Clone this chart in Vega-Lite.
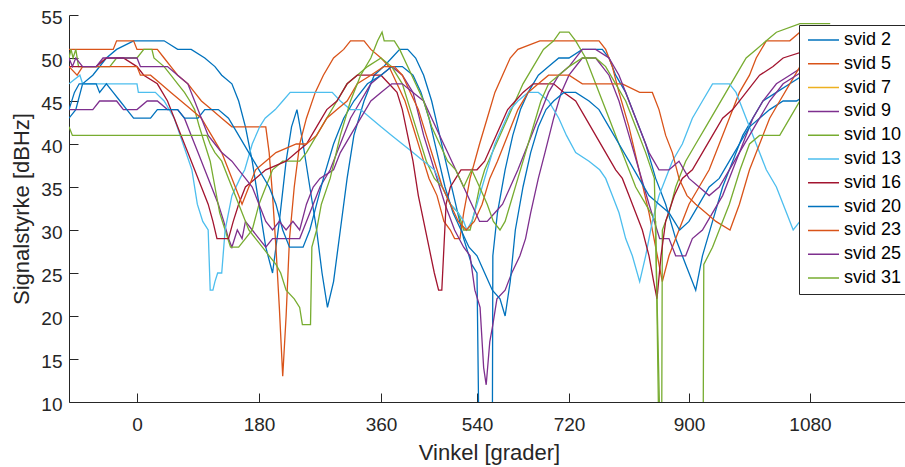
{
"$schema":"https://vega.github.io/schema/vega-lite/v6.json",
"width":836,"height":387,
"autosize":{"type":"none"},
"padding":{"left":69,"top":15,"right":0,"bottom":65},
"background":"white",
"config":{"view":{"stroke":null},"font":"Liberation Sans"},
"datasets":{"d":[
{"s":"svid 2","a":-100,"v":43},{"s":"svid 2","a":-90,"v":44},{"s":"svid 2","a":-80,"v":47},{"s":"svid 2","a":-65,"v":48},{"s":"svid 2","a":-45,"v":50},{"s":"svid 2","a":-30,"v":51},{"s":"svid 2","a":-5,"v":52},{"s":"svid 2","a":20,"v":52},{"s":"svid 2","a":40,"v":52},{"s":"svid 2","a":60,"v":51},{"s":"svid 2","a":80,"v":51},{"s":"svid 2","a":100,"v":50},{"s":"svid 2","a":115,"v":49},{"s":"svid 2","a":125,"v":48},{"s":"svid 2","a":140,"v":47},{"s":"svid 2","a":150,"v":45},{"s":"svid 2","a":160,"v":42},{"s":"svid 2","a":170,"v":38},{"s":"svid 2","a":180,"v":33},{"s":"svid 2","a":190,"v":28},{"s":"svid 2","a":200,"v":25},{"s":"svid 2","a":210,"v":31},{"s":"svid 2","a":220,"v":38},{"s":"svid 2","a":228,"v":42},{"s":"svid 2","a":236,"v":44},{"s":"svid 2","a":245,"v":40},{"s":"svid 2","a":255,"v":35},{"s":"svid 2","a":265,"v":30},{"s":"svid 2","a":273,"v":25},{"s":"svid 2","a":281,"v":21},{"s":"svid 2","a":290,"v":24},{"s":"svid 2","a":300,"v":30},{"s":"svid 2","a":310,"v":36},{"s":"svid 2","a":320,"v":41},{"s":"svid 2","a":335,"v":45},{"s":"svid 2","a":350,"v":48},{"s":"svid 2","a":365,"v":49},{"s":"svid 2","a":380,"v":50},{"s":"svid 2","a":395,"v":51},{"s":"svid 2","a":410,"v":51},{"s":"svid 2","a":425,"v":50},{"s":"svid 2","a":440,"v":48},{"s":"svid 2","a":455,"v":45},{"s":"svid 2","a":470,"v":41},{"s":"svid 2","a":485,"v":37},{"s":"svid 2","a":500,"v":33},{"s":"svid 2","a":515,"v":29},{"s":"svid 2","a":530,"v":26},{"s":"svid 2","a":540,"v":25},{"s":"svid 2","a":544,"v":5},{"s":"svid 2","a":570,"v":5},{"s":"svid 2","a":571,"v":27},{"s":"svid 2","a":580,"v":32},{"s":"svid 2","a":595,"v":37},{"s":"svid 2","a":610,"v":41},{"s":"svid 2","a":625,"v":44},{"s":"svid 2","a":640,"v":46},{"s":"svid 2","a":660,"v":48},{"s":"svid 2","a":680,"v":49},{"s":"svid 2","a":700,"v":50},{"s":"svid 2","a":720,"v":50},{"s":"svid 2","a":740,"v":51},{"s":"svid 2","a":770,"v":51},{"s":"svid 2","a":780,"v":50},{"s":"svid 2","a":790,"v":48},{"s":"svid 2","a":805,"v":46},{"s":"svid 2","a":820,"v":43},{"s":"svid 2","a":835,"v":40},{"s":"svid 2","a":850,"v":36},{"s":"svid 2","a":865,"v":33},{"s":"svid 2","a":880,"v":29},{"s":"svid 2","a":895,"v":26},{"s":"svid 2","a":910,"v":23},{"s":"svid 2","a":920,"v":27},{"s":"svid 2","a":935,"v":31},{"s":"svid 2","a":950,"v":35},{"s":"svid 2","a":965,"v":38},{"s":"svid 2","a":980,"v":41},{"s":"svid 2","a":995,"v":43},{"s":"svid 2","a":1010,"v":45},{"s":"svid 2","a":1030,"v":46},{"s":"svid 2","a":1050,"v":47},{"s":"svid 2","a":1070,"v":48},{"s":"svid 2","a":1110,"v":48},
{"s":"svid 5","a":-100,"v":51},{"s":"svid 5","a":-35,"v":51},{"s":"svid 5","a":-30,"v":52},{"s":"svid 5","a":-5,"v":52},{"s":"svid 5","a":0,"v":51},{"s":"svid 5","a":30,"v":51},{"s":"svid 5","a":40,"v":50},{"s":"svid 5","a":50,"v":49},{"s":"svid 5","a":60,"v":48},{"s":"svid 5","a":75,"v":47},{"s":"svid 5","a":85,"v":46},{"s":"svid 5","a":95,"v":45},{"s":"svid 5","a":110,"v":44},{"s":"svid 5","a":125,"v":43},{"s":"svid 5","a":140,"v":42},{"s":"svid 5","a":190,"v":42},{"s":"svid 5","a":195,"v":39},{"s":"svid 5","a":200,"v":34},{"s":"svid 5","a":205,"v":28},{"s":"svid 5","a":210,"v":21},{"s":"svid 5","a":215,"v":13},{"s":"svid 5","a":220,"v":20},{"s":"svid 5","a":225,"v":29},{"s":"svid 5","a":232,"v":35},{"s":"svid 5","a":240,"v":40},{"s":"svid 5","a":250,"v":43},{"s":"svid 5","a":263,"v":46},{"s":"svid 5","a":275,"v":48},{"s":"svid 5","a":290,"v":50},{"s":"svid 5","a":305,"v":51},{"s":"svid 5","a":315,"v":52},{"s":"svid 5","a":335,"v":52},{"s":"svid 5","a":345,"v":51},{"s":"svid 5","a":360,"v":50},{"s":"svid 5","a":375,"v":49},{"s":"svid 5","a":390,"v":47},{"s":"svid 5","a":405,"v":45},{"s":"svid 5","a":420,"v":42},{"s":"svid 5","a":435,"v":39},{"s":"svid 5","a":450,"v":36},{"s":"svid 5","a":465,"v":34},{"s":"svid 5","a":478,"v":31},{"s":"svid 5","a":490,"v":30},{"s":"svid 5","a":498,"v":29},{"s":"svid 5","a":508,"v":29},{"s":"svid 5","a":515,"v":32},{"s":"svid 5","a":527,"v":36},{"s":"svid 5","a":545,"v":40},{"s":"svid 5","a":560,"v":43},{"s":"svid 5","a":575,"v":46},{"s":"svid 5","a":590,"v":48},{"s":"svid 5","a":605,"v":50},{"s":"svid 5","a":620,"v":51},{"s":"svid 5","a":663,"v":52},{"s":"svid 5","a":765,"v":52},{"s":"svid 5","a":775,"v":51},{"s":"svid 5","a":785,"v":49},{"s":"svid 5","a":795,"v":46},{"s":"svid 5","a":810,"v":42},{"s":"svid 5","a":825,"v":37},{"s":"svid 5","a":840,"v":32},{"s":"svid 5","a":850,"v":28},{"s":"svid 5","a":860,"v":24},{"s":"svid 5","a":870,"v":27},{"s":"svid 5","a":885,"v":30},{"s":"svid 5","a":900,"v":33},{"s":"svid 5","a":915,"v":35},{"s":"svid 5","a":930,"v":37},{"s":"svid 5","a":945,"v":40},{"s":"svid 5","a":960,"v":43},{"s":"svid 5","a":975,"v":46},{"s":"svid 5","a":990,"v":48},{"s":"svid 5","a":1000,"v":50},{"s":"svid 5","a":1015,"v":52},{"s":"svid 5","a":1050,"v":52},{"s":"svid 5","a":1065,"v":53},{"s":"svid 5","a":1110,"v":53},
{"s":"svid 9","a":-100,"v":44},{"s":"svid 9","a":-65,"v":44},{"s":"svid 9","a":-55,"v":45},{"s":"svid 9","a":-30,"v":45},{"s":"svid 9","a":-20,"v":44},{"s":"svid 9","a":0,"v":44},{"s":"svid 9","a":15,"v":45},{"s":"svid 9","a":30,"v":45},{"s":"svid 9","a":45,"v":44},{"s":"svid 9","a":60,"v":44},{"s":"svid 9","a":70,"v":43},{"s":"svid 9","a":80,"v":41},{"s":"svid 9","a":90,"v":39},{"s":"svid 9","a":100,"v":37},{"s":"svid 9","a":110,"v":35},{"s":"svid 9","a":120,"v":33},{"s":"svid 9","a":128,"v":31},{"s":"svid 9","a":135,"v":29},{"s":"svid 9","a":140,"v":28},{"s":"svid 9","a":148,"v":30},{"s":"svid 9","a":155,"v":29},{"s":"svid 9","a":160,"v":31},{"s":"svid 9","a":170,"v":30},{"s":"svid 9","a":180,"v":29},{"s":"svid 9","a":190,"v":28},{"s":"svid 9","a":200,"v":29},{"s":"svid 9","a":240,"v":29},{"s":"svid 9","a":250,"v":31},{"s":"svid 9","a":260,"v":33},{"s":"svid 9","a":270,"v":35},{"s":"svid 9","a":285,"v":37},{"s":"svid 9","a":300,"v":40},{"s":"svid 9","a":315,"v":43},{"s":"svid 9","a":330,"v":45},{"s":"svid 9","a":345,"v":47},{"s":"svid 9","a":360,"v":48},{"s":"svid 9","a":380,"v":49},{"s":"svid 9","a":400,"v":48},{"s":"svid 9","a":420,"v":46},{"s":"svid 9","a":440,"v":41},{"s":"svid 9","a":460,"v":37},{"s":"svid 9","a":480,"v":33},{"s":"svid 9","a":498,"v":30},{"s":"svid 9","a":515,"v":28},{"s":"svid 9","a":527,"v":27},{"s":"svid 9","a":536,"v":23},{"s":"svid 9","a":546,"v":21},{"s":"svid 9","a":553,"v":14},{"s":"svid 9","a":558,"v":12},{"s":"svid 9","a":565,"v":17},{"s":"svid 9","a":571,"v":19},{"s":"svid 9","a":579,"v":22},{"s":"svid 9","a":595,"v":23},{"s":"svid 9","a":608,"v":25},{"s":"svid 9","a":624,"v":27},{"s":"svid 9","a":635,"v":29},{"s":"svid 9","a":645,"v":32},{"s":"svid 9","a":660,"v":36},{"s":"svid 9","a":673,"v":39},{"s":"svid 9","a":690,"v":43},{"s":"svid 9","a":705,"v":46},{"s":"svid 9","a":720,"v":48},{"s":"svid 9","a":740,"v":50},{"s":"svid 9","a":760,"v":50},{"s":"svid 9","a":780,"v":48},{"s":"svid 9","a":795,"v":45},{"s":"svid 9","a":810,"v":41},{"s":"svid 9","a":825,"v":37},{"s":"svid 9","a":840,"v":33},{"s":"svid 9","a":856,"v":29},{"s":"svid 9","a":870,"v":29},{"s":"svid 9","a":880,"v":27},{"s":"svid 9","a":895,"v":27},{"s":"svid 9","a":905,"v":29},{"s":"svid 9","a":920,"v":30},{"s":"svid 9","a":935,"v":32},{"s":"svid 9","a":950,"v":34},{"s":"svid 9","a":965,"v":37},{"s":"svid 9","a":980,"v":40},{"s":"svid 9","a":995,"v":43},{"s":"svid 9","a":1010,"v":45},{"s":"svid 9","a":1030,"v":47},{"s":"svid 9","a":1050,"v":48},{"s":"svid 9","a":1070,"v":49},{"s":"svid 9","a":1090,"v":50},{"s":"svid 9","a":1110,"v":50},
{"s":"svid 10","a":-100,"v":50},{"s":"svid 10","a":-97,"v":51},{"s":"svid 10","a":-94,"v":50},{"s":"svid 10","a":-90,"v":51},{"s":"svid 10","a":-86,"v":49},{"s":"svid 10","a":-40,"v":49},{"s":"svid 10","a":-30,"v":50},{"s":"svid 10","a":0,"v":50},{"s":"svid 10","a":10,"v":51},{"s":"svid 10","a":22,"v":51},{"s":"svid 10","a":25,"v":50},{"s":"svid 10","a":40,"v":49},{"s":"svid 10","a":50,"v":48},{"s":"svid 10","a":60,"v":47},{"s":"svid 10","a":70,"v":46},{"s":"svid 10","a":78,"v":45},{"s":"svid 10","a":85,"v":44},{"s":"svid 10","a":92,"v":42},{"s":"svid 10","a":100,"v":40},{"s":"svid 10","a":108,"v":38},{"s":"svid 10","a":115,"v":35},{"s":"svid 10","a":122,"v":32},{"s":"svid 10","a":130,"v":30},{"s":"svid 10","a":138,"v":28},{"s":"svid 10","a":150,"v":28},{"s":"svid 10","a":160,"v":29},{"s":"svid 10","a":170,"v":30},{"s":"svid 10","a":180,"v":33},{"s":"svid 10","a":190,"v":35},{"s":"svid 10","a":200,"v":37},{"s":"svid 10","a":215,"v":38},{"s":"svid 10","a":240,"v":38},{"s":"svid 10","a":250,"v":39},{"s":"svid 10","a":265,"v":41},{"s":"svid 10","a":280,"v":43},{"s":"svid 10","a":295,"v":45},{"s":"svid 10","a":310,"v":47},{"s":"svid 10","a":325,"v":48},{"s":"svid 10","a":340,"v":49},{"s":"svid 10","a":360,"v":50},{"s":"svid 10","a":380,"v":49},{"s":"svid 10","a":400,"v":47},{"s":"svid 10","a":415,"v":44},{"s":"svid 10","a":430,"v":41},{"s":"svid 10","a":445,"v":38},{"s":"svid 10","a":460,"v":36},{"s":"svid 10","a":475,"v":35},{"s":"svid 10","a":490,"v":33},{"s":"svid 10","a":505,"v":32},{"s":"svid 10","a":515,"v":30},{"s":"svid 10","a":527,"v":30},{"s":"svid 10","a":535,"v":32},{"s":"svid 10","a":545,"v":35},{"s":"svid 10","a":555,"v":37},{"s":"svid 10","a":570,"v":39},{"s":"svid 10","a":585,"v":41},{"s":"svid 10","a":600,"v":43},{"s":"svid 10","a":615,"v":45},{"s":"svid 10","a":630,"v":47},{"s":"svid 10","a":650,"v":49},{"s":"svid 10","a":670,"v":51},{"s":"svid 10","a":690,"v":52},{"s":"svid 10","a":702,"v":53},{"s":"svid 10","a":720,"v":53},{"s":"svid 10","a":730,"v":52},{"s":"svid 10","a":745,"v":50},{"s":"svid 10","a":760,"v":47},{"s":"svid 10","a":775,"v":44},{"s":"svid 10","a":790,"v":41},{"s":"svid 10","a":805,"v":38},{"s":"svid 10","a":820,"v":35},{"s":"svid 10","a":835,"v":33},{"s":"svid 10","a":850,"v":31},{"s":"svid 10","a":855,"v":5},{"s":"svid 10","a":859,"v":5},{"s":"svid 10","a":860,"v":30},{"s":"svid 10","a":870,"v":32},{"s":"svid 10","a":880,"v":35},{"s":"svid 10","a":895,"v":38},{"s":"svid 10","a":910,"v":40},{"s":"svid 10","a":925,"v":42},{"s":"svid 10","a":940,"v":44},{"s":"svid 10","a":955,"v":46},{"s":"svid 10","a":970,"v":48},{"s":"svid 10","a":985,"v":50},{"s":"svid 10","a":1000,"v":51},{"s":"svid 10","a":1015,"v":52},{"s":"svid 10","a":1030,"v":53},{"s":"svid 10","a":1065,"v":54},{"s":"svid 10","a":1110,"v":54},
{"s":"svid 13","a":-100,"v":47},{"s":"svid 13","a":-84,"v":48},{"s":"svid 13","a":-80,"v":47},{"s":"svid 13","a":0,"v":47},{"s":"svid 13","a":2,"v":46},{"s":"svid 13","a":27,"v":46},{"s":"svid 13","a":40,"v":45},{"s":"svid 13","a":55,"v":43},{"s":"svid 13","a":68,"v":40},{"s":"svid 13","a":81,"v":37},{"s":"svid 13","a":89,"v":33},{"s":"svid 13","a":97,"v":31},{"s":"svid 13","a":105,"v":30},{"s":"svid 13","a":108,"v":23},{"s":"svid 13","a":112,"v":23},{"s":"svid 13","a":115,"v":24},{"s":"svid 13","a":119,"v":25},{"s":"svid 13","a":125,"v":25},{"s":"svid 13","a":130,"v":30},{"s":"svid 13","a":140,"v":34},{"s":"svid 13","a":152,"v":36},{"s":"svid 13","a":159,"v":37},{"s":"svid 13","a":170,"v":40},{"s":"svid 13","a":181,"v":42},{"s":"svid 13","a":189,"v":43},{"s":"svid 13","a":204,"v":44},{"s":"svid 13","a":215,"v":45},{"s":"svid 13","a":226,"v":46},{"s":"svid 13","a":288,"v":46},{"s":"svid 13","a":300,"v":45},{"s":"svid 13","a":315,"v":44},{"s":"svid 13","a":330,"v":44},{"s":"svid 13","a":345,"v":43},{"s":"svid 13","a":360,"v":42},{"s":"svid 13","a":380,"v":41},{"s":"svid 13","a":400,"v":40},{"s":"svid 13","a":420,"v":39},{"s":"svid 13","a":440,"v":38},{"s":"svid 13","a":460,"v":37},{"s":"svid 13","a":475,"v":35},{"s":"svid 13","a":490,"v":33},{"s":"svid 13","a":505,"v":32},{"s":"svid 13","a":515,"v":31},{"s":"svid 13","a":521,"v":30},{"s":"svid 13","a":530,"v":31},{"s":"svid 13","a":540,"v":33},{"s":"svid 13","a":550,"v":35},{"s":"svid 13","a":560,"v":37},{"s":"svid 13","a":575,"v":40},{"s":"svid 13","a":590,"v":42},{"s":"svid 13","a":605,"v":44},{"s":"svid 13","a":620,"v":45},{"s":"svid 13","a":640,"v":46},{"s":"svid 13","a":660,"v":46},{"s":"svid 13","a":680,"v":45},{"s":"svid 13","a":700,"v":43},{"s":"svid 13","a":715,"v":41},{"s":"svid 13","a":730,"v":39},{"s":"svid 13","a":750,"v":38},{"s":"svid 13","a":766,"v":37},{"s":"svid 13","a":775,"v":36},{"s":"svid 13","a":785,"v":34},{"s":"svid 13","a":795,"v":32},{"s":"svid 13","a":805,"v":29},{"s":"svid 13","a":815,"v":27},{"s":"svid 13","a":826,"v":24},{"s":"svid 13","a":835,"v":27},{"s":"svid 13","a":845,"v":31},{"s":"svid 13","a":855,"v":34},{"s":"svid 13","a":865,"v":36},{"s":"svid 13","a":875,"v":38},{"s":"svid 13","a":890,"v":40},{"s":"svid 13","a":905,"v":43},{"s":"svid 13","a":920,"v":45},{"s":"svid 13","a":935,"v":47},{"s":"svid 13","a":960,"v":47},{"s":"svid 13","a":970,"v":46},{"s":"svid 13","a":985,"v":43},{"s":"svid 13","a":1000,"v":40},{"s":"svid 13","a":1015,"v":37},{"s":"svid 13","a":1030,"v":35},{"s":"svid 13","a":1045,"v":32},{"s":"svid 13","a":1055,"v":30},{"s":"svid 13","a":1065,"v":31},{"s":"svid 13","a":1080,"v":34},{"s":"svid 13","a":1095,"v":37},{"s":"svid 13","a":1110,"v":40},
{"s":"svid 16","a":-100,"v":49},{"s":"svid 16","a":-60,"v":49},{"s":"svid 16","a":-45,"v":50},{"s":"svid 16","a":-20,"v":50},{"s":"svid 16","a":0,"v":49},{"s":"svid 16","a":10,"v":48},{"s":"svid 16","a":30,"v":47},{"s":"svid 16","a":45,"v":45},{"s":"svid 16","a":55,"v":43},{"s":"svid 16","a":65,"v":41},{"s":"svid 16","a":75,"v":39},{"s":"svid 16","a":85,"v":37},{"s":"svid 16","a":95,"v":35},{"s":"svid 16","a":105,"v":33},{"s":"svid 16","a":112,"v":31},{"s":"svid 16","a":118,"v":29},{"s":"svid 16","a":135,"v":29},{"s":"svid 16","a":142,"v":31},{"s":"svid 16","a":150,"v":33},{"s":"svid 16","a":160,"v":35},{"s":"svid 16","a":175,"v":36},{"s":"svid 16","a":190,"v":37},{"s":"svid 16","a":220,"v":38},{"s":"svid 16","a":235,"v":39},{"s":"svid 16","a":250,"v":40},{"s":"svid 16","a":265,"v":42},{"s":"svid 16","a":280,"v":44},{"s":"svid 16","a":295,"v":45},{"s":"svid 16","a":310,"v":47},{"s":"svid 16","a":325,"v":48},{"s":"svid 16","a":360,"v":48},{"s":"svid 16","a":375,"v":47},{"s":"svid 16","a":390,"v":46},{"s":"svid 16","a":400,"v":44},{"s":"svid 16","a":410,"v":41},{"s":"svid 16","a":420,"v":38},{"s":"svid 16","a":430,"v":34},{"s":"svid 16","a":440,"v":31},{"s":"svid 16","a":450,"v":28},{"s":"svid 16","a":460,"v":25},{"s":"svid 16","a":468,"v":23},{"s":"svid 16","a":474,"v":23},{"s":"svid 16","a":478,"v":28},{"s":"svid 16","a":482,"v":33},{"s":"svid 16","a":490,"v":35},{"s":"svid 16","a":500,"v":36},{"s":"svid 16","a":510,"v":37},{"s":"svid 16","a":540,"v":37},{"s":"svid 16","a":555,"v":38},{"s":"svid 16","a":570,"v":40},{"s":"svid 16","a":585,"v":42},{"s":"svid 16","a":600,"v":44},{"s":"svid 16","a":615,"v":45},{"s":"svid 16","a":630,"v":46},{"s":"svid 16","a":650,"v":47},{"s":"svid 16","a":690,"v":47},{"s":"svid 16","a":710,"v":46},{"s":"svid 16","a":730,"v":45},{"s":"svid 16","a":745,"v":43},{"s":"svid 16","a":760,"v":41},{"s":"svid 16","a":775,"v":39},{"s":"svid 16","a":790,"v":37},{"s":"svid 16","a":800,"v":36},{"s":"svid 16","a":810,"v":34},{"s":"svid 16","a":820,"v":32},{"s":"svid 16","a":830,"v":30},{"s":"svid 16","a":840,"v":27},{"s":"svid 16","a":847,"v":24},{"s":"svid 16","a":852,"v":22},{"s":"svid 16","a":858,"v":27},{"s":"svid 16","a":865,"v":31},{"s":"svid 16","a":878,"v":34},{"s":"svid 16","a":890,"v":36},{"s":"svid 16","a":905,"v":37},{"s":"svid 16","a":920,"v":39},{"s":"svid 16","a":935,"v":41},{"s":"svid 16","a":950,"v":43},{"s":"svid 16","a":965,"v":44},{"s":"svid 16","a":985,"v":46},{"s":"svid 16","a":1005,"v":48},{"s":"svid 16","a":1025,"v":49},{"s":"svid 16","a":1040,"v":50},{"s":"svid 16","a":1080,"v":51},{"s":"svid 16","a":1110,"v":51},
{"s":"svid 20","a":-100,"v":44},{"s":"svid 20","a":-92,"v":46},{"s":"svid 20","a":-85,"v":47},{"s":"svid 20","a":-60,"v":47},{"s":"svid 20","a":-55,"v":46},{"s":"svid 20","a":-45,"v":47},{"s":"svid 20","a":-35,"v":46},{"s":"svid 20","a":-25,"v":45},{"s":"svid 20","a":-15,"v":44},{"s":"svid 20","a":-5,"v":43},{"s":"svid 20","a":20,"v":43},{"s":"svid 20","a":30,"v":44},{"s":"svid 20","a":60,"v":44},{"s":"svid 20","a":70,"v":43},{"s":"svid 20","a":90,"v":43},{"s":"svid 20","a":100,"v":44},{"s":"svid 20","a":120,"v":44},{"s":"svid 20","a":135,"v":43},{"s":"svid 20","a":150,"v":41},{"s":"svid 20","a":165,"v":39},{"s":"svid 20","a":180,"v":37},{"s":"svid 20","a":195,"v":35},{"s":"svid 20","a":205,"v":33},{"s":"svid 20","a":215,"v":30},{"s":"svid 20","a":225,"v":28},{"s":"svid 20","a":245,"v":28},{"s":"svid 20","a":255,"v":30},{"s":"svid 20","a":265,"v":33},{"s":"svid 20","a":275,"v":36},{"s":"svid 20","a":290,"v":40},{"s":"svid 20","a":305,"v":43},{"s":"svid 20","a":320,"v":45},{"s":"svid 20","a":340,"v":47},{"s":"svid 20","a":360,"v":48},{"s":"svid 20","a":380,"v":49},{"s":"svid 20","a":400,"v":49},{"s":"svid 20","a":420,"v":48},{"s":"svid 20","a":435,"v":46},{"s":"svid 20","a":450,"v":43},{"s":"svid 20","a":465,"v":39},{"s":"svid 20","a":480,"v":35},{"s":"svid 20","a":495,"v":32},{"s":"svid 20","a":510,"v":30},{"s":"svid 20","a":525,"v":28},{"s":"svid 20","a":540,"v":27},{"s":"svid 20","a":555,"v":25},{"s":"svid 20","a":570,"v":23},{"s":"svid 20","a":585,"v":22},{"s":"svid 20","a":595,"v":20},{"s":"svid 20","a":605,"v":24},{"s":"svid 20","a":615,"v":30},{"s":"svid 20","a":630,"v":35},{"s":"svid 20","a":645,"v":39},{"s":"svid 20","a":660,"v":42},{"s":"svid 20","a":675,"v":44},{"s":"svid 20","a":690,"v":45},{"s":"svid 20","a":710,"v":46},{"s":"svid 20","a":730,"v":46},{"s":"svid 20","a":750,"v":45},{"s":"svid 20","a":765,"v":44},{"s":"svid 20","a":780,"v":42},{"s":"svid 20","a":795,"v":40},{"s":"svid 20","a":810,"v":38},{"s":"svid 20","a":825,"v":36},{"s":"svid 20","a":840,"v":34},{"s":"svid 20","a":855,"v":33},{"s":"svid 20","a":870,"v":32},{"s":"svid 20","a":886,"v":30},{"s":"svid 20","a":900,"v":31},{"s":"svid 20","a":915,"v":33},{"s":"svid 20","a":930,"v":35},{"s":"svid 20","a":945,"v":36},{"s":"svid 20","a":960,"v":38},{"s":"svid 20","a":975,"v":40},{"s":"svid 20","a":990,"v":42},{"s":"svid 20","a":1005,"v":43},{"s":"svid 20","a":1020,"v":44},{"s":"svid 20","a":1040,"v":45},{"s":"svid 20","a":1060,"v":45},{"s":"svid 20","a":1080,"v":46},{"s":"svid 20","a":1110,"v":47},
{"s":"svid 23","a":-100,"v":49},{"s":"svid 23","a":-88,"v":48},{"s":"svid 23","a":-80,"v":49},{"s":"svid 23","a":0,"v":49},{"s":"svid 23","a":5,"v":48},{"s":"svid 23","a":20,"v":48},{"s":"svid 23","a":35,"v":47},{"s":"svid 23","a":50,"v":46},{"s":"svid 23","a":65,"v":45},{"s":"svid 23","a":80,"v":44},{"s":"svid 23","a":95,"v":43},{"s":"svid 23","a":110,"v":41},{"s":"svid 23","a":125,"v":39},{"s":"svid 23","a":135,"v":37},{"s":"svid 23","a":145,"v":35},{"s":"svid 23","a":155,"v":33},{"s":"svid 23","a":165,"v":35},{"s":"svid 23","a":175,"v":37},{"s":"svid 23","a":190,"v":38},{"s":"svid 23","a":205,"v":39},{"s":"svid 23","a":235,"v":40},{"s":"svid 23","a":250,"v":40},{"s":"svid 23","a":265,"v":41},{"s":"svid 23","a":280,"v":43},{"s":"svid 23","a":295,"v":44},{"s":"svid 23","a":310,"v":45},{"s":"svid 23","a":325,"v":47},{"s":"svid 23","a":345,"v":48},{"s":"svid 23","a":365,"v":49},{"s":"svid 23","a":385,"v":49},{"s":"svid 23","a":400,"v":48},{"s":"svid 23","a":415,"v":46},{"s":"svid 23","a":430,"v":44},{"s":"svid 23","a":445,"v":41},{"s":"svid 23","a":460,"v":38},{"s":"svid 23","a":475,"v":35},{"s":"svid 23","a":490,"v":33},{"s":"svid 23","a":505,"v":31},{"s":"svid 23","a":520,"v":30},{"s":"svid 23","a":535,"v":31},{"s":"svid 23","a":550,"v":33},{"s":"svid 23","a":565,"v":36},{"s":"svid 23","a":580,"v":38},{"s":"svid 23","a":600,"v":41},{"s":"svid 23","a":620,"v":44},{"s":"svid 23","a":640,"v":46},{"s":"svid 23","a":660,"v":47},{"s":"svid 23","a":680,"v":48},{"s":"svid 23","a":720,"v":48},{"s":"svid 23","a":740,"v":47},{"s":"svid 23","a":800,"v":47},{"s":"svid 23","a":826,"v":46},{"s":"svid 23","a":845,"v":46},{"s":"svid 23","a":855,"v":44},{"s":"svid 23","a":865,"v":41},{"s":"svid 23","a":875,"v":39},{"s":"svid 23","a":885,"v":36},{"s":"svid 23","a":897,"v":34},{"s":"svid 23","a":910,"v":33},{"s":"svid 23","a":925,"v":32},{"s":"svid 23","a":940,"v":31},{"s":"svid 23","a":961,"v":30},{"s":"svid 23","a":975,"v":33},{"s":"svid 23","a":990,"v":37},{"s":"svid 23","a":1005,"v":40},{"s":"svid 23","a":1020,"v":43},{"s":"svid 23","a":1035,"v":45},{"s":"svid 23","a":1050,"v":47},{"s":"svid 23","a":1065,"v":49},{"s":"svid 23","a":1080,"v":50},{"s":"svid 23","a":1110,"v":51},
{"s":"svid 25","a":-100,"v":50},{"s":"svid 25","a":-95,"v":49},{"s":"svid 25","a":-90,"v":50},{"s":"svid 25","a":-80,"v":49},{"s":"svid 25","a":-60,"v":49},{"s":"svid 25","a":-50,"v":50},{"s":"svid 25","a":0,"v":50},{"s":"svid 25","a":5,"v":49},{"s":"svid 25","a":45,"v":49},{"s":"svid 25","a":60,"v":48},{"s":"svid 25","a":75,"v":47},{"s":"svid 25","a":85,"v":45},{"s":"svid 25","a":95,"v":43},{"s":"svid 25","a":105,"v":41},{"s":"svid 25","a":115,"v":40},{"s":"svid 25","a":125,"v":39},{"s":"svid 25","a":140,"v":38},{"s":"svid 25","a":150,"v":37},{"s":"svid 25","a":160,"v":36},{"s":"svid 25","a":170,"v":35},{"s":"svid 25","a":180,"v":33},{"s":"svid 25","a":190,"v":31},{"s":"svid 25","a":200,"v":30},{"s":"svid 25","a":210,"v":31},{"s":"svid 25","a":220,"v":30},{"s":"svid 25","a":230,"v":31},{"s":"svid 25","a":240,"v":30},{"s":"svid 25","a":250,"v":33},{"s":"svid 25","a":260,"v":35},{"s":"svid 25","a":270,"v":36},{"s":"svid 25","a":290,"v":37},{"s":"svid 25","a":300,"v":39},{"s":"svid 25","a":315,"v":41},{"s":"svid 25","a":330,"v":43},{"s":"svid 25","a":345,"v":45},{"s":"svid 25","a":360,"v":46},{"s":"svid 25","a":380,"v":47},{"s":"svid 25","a":400,"v":47},{"s":"svid 25","a":420,"v":46},{"s":"svid 25","a":440,"v":45},{"s":"svid 25","a":455,"v":43},{"s":"svid 25","a":470,"v":41},{"s":"svid 25","a":485,"v":39},{"s":"svid 25","a":500,"v":37},{"s":"svid 25","a":515,"v":35},{"s":"svid 25","a":530,"v":33},{"s":"svid 25","a":545,"v":31},{"s":"svid 25","a":560,"v":31},{"s":"svid 25","a":575,"v":32},{"s":"svid 25","a":590,"v":33},{"s":"svid 25","a":605,"v":35},{"s":"svid 25","a":620,"v":37},{"s":"svid 25","a":640,"v":40},{"s":"svid 25","a":660,"v":43},{"s":"svid 25","a":680,"v":46},{"s":"svid 25","a":700,"v":48},{"s":"svid 25","a":720,"v":49},{"s":"svid 25","a":740,"v":51},{"s":"svid 25","a":760,"v":51},{"s":"svid 25","a":780,"v":50},{"s":"svid 25","a":795,"v":48},{"s":"svid 25","a":810,"v":45},{"s":"svid 25","a":825,"v":42},{"s":"svid 25","a":840,"v":39},{"s":"svid 25","a":855,"v":37},{"s":"svid 25","a":870,"v":37},{"s":"svid 25","a":885,"v":38},{"s":"svid 25","a":900,"v":36},{"s":"svid 25","a":915,"v":35},{"s":"svid 25","a":930,"v":34},{"s":"svid 25","a":945,"v":35},{"s":"svid 25","a":960,"v":37},{"s":"svid 25","a":975,"v":39},{"s":"svid 25","a":990,"v":41},{"s":"svid 25","a":1005,"v":43},{"s":"svid 25","a":1020,"v":45},{"s":"svid 25","a":1040,"v":47},{"s":"svid 25","a":1060,"v":48},{"s":"svid 25","a":1080,"v":49},{"s":"svid 25","a":1110,"v":49},
{"s":"svid 31","a":-100,"v":42},{"s":"svid 31","a":-95,"v":41},{"s":"svid 31","a":103,"v":41},{"s":"svid 31","a":108,"v":40},{"s":"svid 31","a":115,"v":39},{"s":"svid 31","a":125,"v":38},{"s":"svid 31","a":135,"v":36},{"s":"svid 31","a":145,"v":34},{"s":"svid 31","a":155,"v":32},{"s":"svid 31","a":165,"v":30},{"s":"svid 31","a":175,"v":29},{"s":"svid 31","a":185,"v":28},{"s":"svid 31","a":195,"v":27},{"s":"svid 31","a":205,"v":26},{"s":"svid 31","a":212,"v":25},{"s":"svid 31","a":220,"v":23},{"s":"svid 31","a":232,"v":22},{"s":"svid 31","a":240,"v":21},{"s":"svid 31","a":244,"v":19},{"s":"svid 31","a":256,"v":19},{"s":"svid 31","a":258,"v":28},{"s":"svid 31","a":265,"v":30},{"s":"svid 31","a":272,"v":33},{"s":"svid 31","a":285,"v":36},{"s":"svid 31","a":300,"v":41},{"s":"svid 31","a":315,"v":45},{"s":"svid 31","a":330,"v":48},{"s":"svid 31","a":345,"v":50},{"s":"svid 31","a":355,"v":52},{"s":"svid 31","a":362,"v":53},{"s":"svid 31","a":366,"v":52},{"s":"svid 31","a":385,"v":52},{"s":"svid 31","a":395,"v":51},{"s":"svid 31","a":410,"v":49},{"s":"svid 31","a":425,"v":47},{"s":"svid 31","a":440,"v":45},{"s":"svid 31","a":455,"v":42},{"s":"svid 31","a":470,"v":40},{"s":"svid 31","a":485,"v":38},{"s":"svid 31","a":500,"v":37},{"s":"svid 31","a":515,"v":35},{"s":"svid 31","a":530,"v":37},{"s":"svid 31","a":545,"v":35},{"s":"svid 31","a":560,"v":33},{"s":"svid 31","a":572,"v":31},{"s":"svid 31","a":585,"v":30},{"s":"svid 31","a":595,"v":31},{"s":"svid 31","a":605,"v":33},{"s":"svid 31","a":620,"v":36},{"s":"svid 31","a":635,"v":39},{"s":"svid 31","a":650,"v":42},{"s":"svid 31","a":665,"v":45},{"s":"svid 31","a":680,"v":47},{"s":"svid 31","a":700,"v":48},{"s":"svid 31","a":720,"v":49},{"s":"svid 31","a":740,"v":50},{"s":"svid 31","a":760,"v":50},{"s":"svid 31","a":775,"v":49},{"s":"svid 31","a":790,"v":47},{"s":"svid 31","a":805,"v":45},{"s":"svid 31","a":820,"v":42},{"s":"svid 31","a":835,"v":39},{"s":"svid 31","a":848,"v":36},{"s":"svid 31","a":857,"v":5},{"s":"svid 31","a":921,"v":5},{"s":"svid 31","a":922,"v":26},{"s":"svid 31","a":935,"v":28},{"s":"svid 31","a":945,"v":30},{"s":"svid 31","a":960,"v":33},{"s":"svid 31","a":976,"v":37},{"s":"svid 31","a":990,"v":40},{"s":"svid 31","a":1005,"v":41},{"s":"svid 31","a":1035,"v":41},{"s":"svid 31","a":1050,"v":43},{"s":"svid 31","a":1065,"v":45},{"s":"svid 31","a":1080,"v":46},{"s":"svid 31","a":1110,"v":47}
]},
"data":{"name":"d"},
"mark":{"type":"line","clip":true,"strokeWidth":1.3,"interpolate":"linear"},
"encoding":{
"x":{"field":"a","type":"quantitative",
"scale":{"domain":[-100,0,180,360,540,720,900,1080,1221],"range":[0,68,190,312,408,500,620,741,836],"nice":false,"zero":false},
"axis":{"values":[0,180,360,540,720,900,1080],"format":"d","title":"Vinkel [grader]","grid":false,"tickSize":-9,"labelPadding":37,"labelBaseline":"alphabetic","labelFontSize":19,"labelColor":"#262626","labelFlush":false,"labelOverlap":false,"titleFontSize":22,"titleFontWeight":"normal","titleColor":"#262626","titleX":420,"titleY":57,"titleBaseline":"alphabetic","domainColor":"#262626","tickColor":"#262626"}},
"y":{"field":"v","type":"quantitative",
"scale":{"domain":[10,55],"nice":false,"zero":false},
"axis":{"values":[10,15,20,25,30,35,40,45,50,55],"title":"Signalstyrke [dBHz]","grid":false,"tickSize":-9,"labelPadding":16,"labelOffset":2,"labelFontSize":19,"labelColor":"#262626","labelFlush":false,"labelOverlap":false,"titleFontSize":22,"titleFontWeight":"normal","titleColor":"#262626","titleX":-41,"titleY":193.5,"titleBaseline":"alphabetic","titleAlign":"center","titleAngle":-90,"domainColor":"#262626","tickColor":"#262626"}},
"color":{"field":"s","type":"nominal",
"scale":{"domain":["svid 2","svid 5","svid 7","svid 9","svid 10","svid 13","svid 16","svid 20","svid 23","svid 25","svid 31"],"range":["#0072BD","#D95319","#EDB120","#7E2F8E","#77AC30","#4DBEEE","#A2142F","#0072BD","#D95319","#7E2F8E","#77AC30"]},
"legend":{"title":null,"orient":"none","legendX":730,"legendY":10,"fillColor":"white","strokeColor":"#262626","padding":4,"symbolType":"stroke","symbolSize":961,"symbolStrokeWidth":1.5,"symbolOffset":4,"labelOffset":4,"labelFontSize":18,"labelColor":"#000000","clipHeight":22,"rowPadding":1.8,"labelLimit":200}}
}
}
